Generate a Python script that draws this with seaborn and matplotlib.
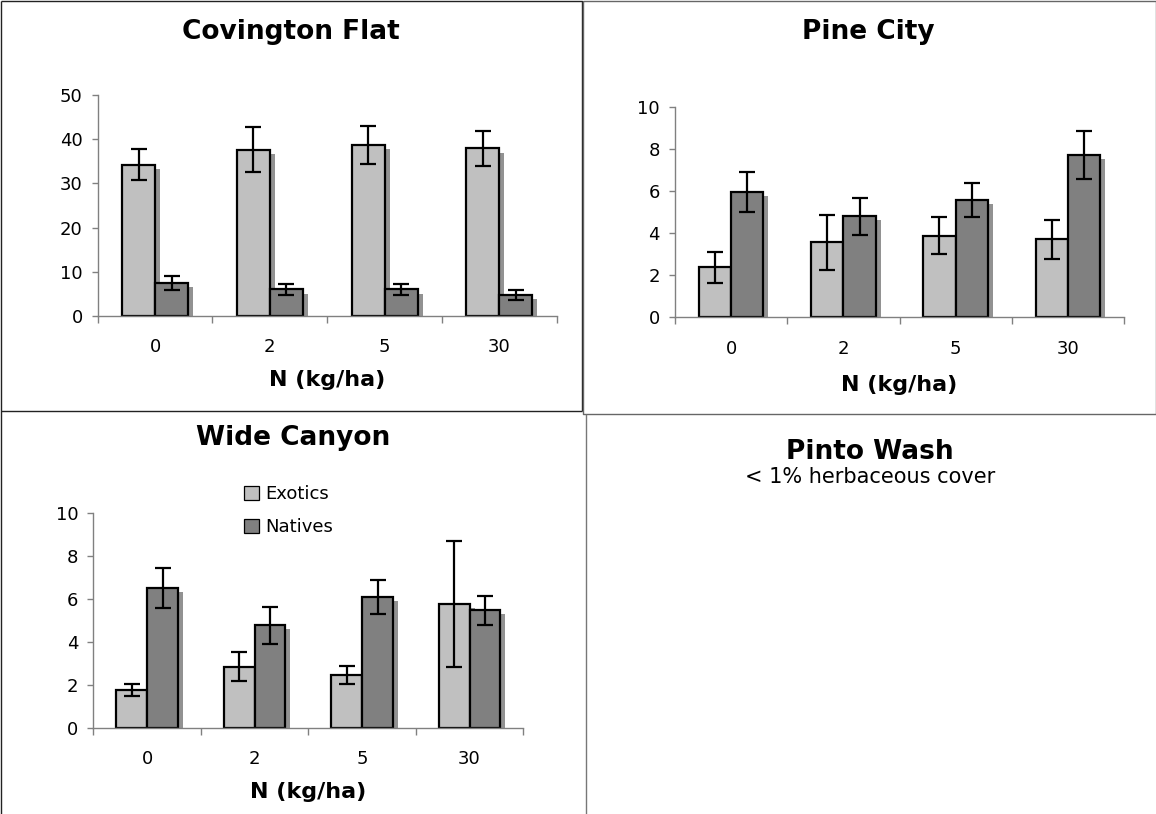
import matplotlib
matplotlib.use("Agg")
import matplotlib.pyplot as plt
import pandas as pd
import seaborn as sns
from matplotlib import patheffects as pe
from matplotlib.patches import Patch
from matplotlib.lines import Line2D

# ---- data: herbaceous cover (%) by N addition, mean and standard error ----
n_levels = ["0", "2", "5", "30"]
groups = ["Exotics", "Natives"]

cov_exotics = [34.2, 37.6, 38.7, 37.9]
cov_exotics_se = [3.5, 5.1, 4.3, 4.0]
cov_natives = [7.4, 6.0, 6.0, 4.7]
cov_natives_se = [1.6, 1.2, 1.35, 1.1]

pine_exotics = [2.38, 3.56, 3.88, 3.70]
pine_exotics_se = [0.73, 1.30, 0.87, 0.92]
pine_natives = [5.95, 4.80, 5.58, 7.70]
pine_natives_se = [0.96, 0.88, 0.81, 1.15]

wide_exotics = [1.76, 2.85, 2.44, 5.77]
wide_exotics_se = [0.30, 0.66, 0.42, 2.94]
wide_natives = [6.53, 4.77, 6.08, 5.47]
wide_natives_se = [0.94, 0.86, 0.79, 0.69]

palette = {"Exotics": "#C0C0C0", "Natives": "#808080"}
SHADOW = "#929292"
AXIS_GREY = "#808080"

W, H = 1156, 814

sns.set_style("white")
plt.rcParams["font.family"] = ["DejaVu Sans"]
plt.rcParams["text.color"] = "black"
plt.rcParams["axes.labelcolor"] = "black"

fig = plt.figure(figsize=(W / 100, H / 100), dpi=100)


def fx(px):
    return px / W


def fy(py):
    return 1 - py / H


def px_rect(x0, y0, x1, y1):
    return [fx(x0), fy(y1), (x1 - x0) / W, (y1 - y0) / H]


def draw_panel(ax, exotics, exotics_se, natives, natives_se, ymax, ystep, label_y):
    df = pd.DataFrame({
        "N": n_levels * 2,
        "group": [groups[0]] * len(n_levels) + [groups[1]] * len(n_levels),
        "cover": exotics + natives,
    })
    sns.barplot(data=df, x="N", y="cover", hue="group", order=n_levels,
                hue_order=groups, palette=palette, saturation=1,
                width=0.575, gap=0, errorbar=None, edgecolor="black",
                linewidth=1.6, legend=False, ax=ax)

    shadow = [pe.SimplePatchShadow(offset=(3.6, -2.9), shadow_rgbFace=SHADOW,
                                   alpha=1.0), pe.Normal()]
    for cont, se in zip(ax.containers, [exotics_se, natives_se]):
        xs = [p.get_x() + p.get_width() / 2 for p in cont]
        hs = [p.get_height() for p in cont]
        for p in cont:
            p.set_path_effects(shadow)
        ax.errorbar(xs, hs, yerr=se, fmt="none", ecolor="black",
                    elinewidth=1.6, capsize=5.8, capthick=1.6, zorder=3)

    ax.set_xlim(-0.5, len(n_levels) - 0.5)
    ax.set_ylim(0, ymax)
    ax.set_yticks(range(0, ymax + 1, ystep))
    ax.set_xticks(range(len(n_levels)))
    ax.set_xticklabels(n_levels)
    ax.set_xticks([i - 0.5 for i in range(len(n_levels) + 1)], minor=True)

    for side in ("top", "right"):
        ax.spines[side].set_visible(False)
    for side in ("left", "bottom"):
        ax.spines[side].set_color(AXIS_GREY)
        ax.spines[side].set_linewidth(1.0)

    ax.tick_params(axis="x", which="major", length=0, pad=16, labelsize=13,
                   labelcolor="black")
    ax.tick_params(axis="x", which="minor", length=4.8, width=1.0,
                   direction="out", color=AXIS_GREY, bottom=True)
    ax.tick_params(axis="y", which="major", length=4.3, width=1.0,
                   direction="out", color=AXIS_GREY, left=True, pad=6.5,
                   labelsize=13, labelcolor="black")

    ax.set_ylabel("")
    ax.set_xlabel("N (kg/ha)", fontsize=16, fontweight="bold", color="black")
    ax.xaxis.label.set_va("center")
    ax.xaxis.set_label_coords(0.5, label_y)
    ax.patch.set_alpha(0)


# Covington Flat
ax1 = fig.add_axes(px_rect(97.7, 95, 556.7, 316))
draw_panel(ax1, cov_exotics, cov_exotics_se, cov_natives, cov_natives_se,
           50, 10, -(380 - 316) / 221)

# Pine City
ax2 = fig.add_axes(px_rect(675, 106.7, 1124, 317.3))
draw_panel(ax2, pine_exotics, pine_exotics_se, pine_natives, pine_natives_se,
           10, 2, -(385 - 317.3) / 210.6)

# Wide Canyon
ax3 = fig.add_axes(px_rect(93.3, 513.3, 523.3, 727.7))
draw_panel(ax3, wide_exotics, wide_exotics_se, wide_natives, wide_natives_se,
           10, 2, -(792 - 727.7) / 214.4)

# legend inside Wide Canyon
handles = [Patch(facecolor=palette[g], edgecolor="black", linewidth=0.9)
           for g in groups]
ax3.legend(handles, groups, loc="upper left",
           bbox_to_anchor=(fx(244), fy(485)), bbox_transform=fig.transFigure,
           frameon=False, fontsize=13, borderpad=0, borderaxespad=0,
           handlelength=0.85, handleheight=0.8, handletextpad=0.3,
           labelspacing=0.85)

# panel titles
title_kw = dict(ha="center", va="center", fontsize=19, fontweight="bold",
                color="black")
fig.text(fx(291), fy(32), "Covington Flat", **title_kw)
fig.text(fx(868), fy(32), "Pine City", **title_kw)
fig.text(fx(293), fy(438), "Wide Canyon", **title_kw)
fig.text(fx(870), fy(452), "Pinto Wash", **title_kw)
fig.text(fx(870), fy(477), "< 1% herbaceous cover", ha="center", va="center",
         fontsize=15, color="black")

# panel frames


def frame_line(xs, ys, color):
    fig.add_artist(Line2D([fx(x) for x in xs], [fy(y) for y in ys],
                          color=color, linewidth=1.0, solid_capstyle="butt"))


frame_line([0.5, 581.5, 581.5], [0.5, 0.5, 411], "#222222")
frame_line([0.5, 0.5], [0.5, 814], "#222222")
frame_line([0.5, 581.5], [410.5, 410.5], "#222222")
frame_line([582.5, 1155.5, 1155.5, 582.5, 582.5],
           [0.5, 0.5, 413.5, 413.5, 0.5], "#666666")
frame_line([585.5, 585.5], [413.5, 814], "#777777")

fig.savefig("out.png", dpi=100)
